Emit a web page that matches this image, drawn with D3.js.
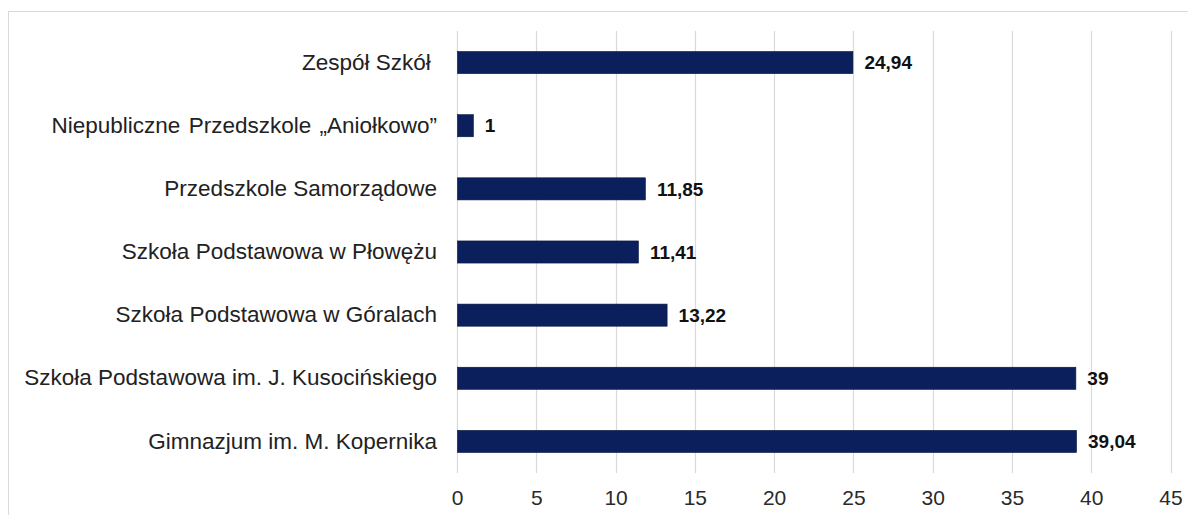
<!DOCTYPE html>
<html>
<head>
<meta charset="utf-8">
<script src="https://cdn.jsdelivr.net/npm/d3@7"></script>
<style>
  body { margin: 0; background: #fff; }
  svg { display: block; font-family: "Liberation Sans", Arial, sans-serif; }
</style>
</head>
<body>
<div id="chart"></div>
<script>
var categories = [
  "Zespół Szkół ",
  "Niepubliczne Przedszkole „Aniołkowo”",
  "Przedszkole Samorządowe",
  "Szkoła Podstawowa w Płowężu",
  "Szkoła Podstawowa w Góralach",
  "Szkoła Podstawowa im. J. Kusocińskiego",
  "Gimnazjum im. M. Kopernika"
];
var values = [24.94, 1, 11.85, 11.41, 13.22, 39, 39.04];
var valueLabels = ["24,94", "1", "11,85", "11,41", "13,22", "39", "39,04"];
var xTicks = [0, 5, 10, 15, 20, 25, 30, 35, 40, 45];

var W = 1188, H = 515;
var margin = {top: 31, right: 17, bottom: 42, left: 457},
    width = W - margin.left - margin.right,
    height = H - margin.top - margin.bottom;

var svg = d3.select("#chart").append("svg")
    .attr("width", W)
    .attr("height", H);

// outer frame (runs off the right and bottom edge)
svg.append("rect")
    .attr("x", 8.5).attr("y", 11.5)
    .attr("width", W + 10).attr("height", H + 10)
    .attr("fill", "none")
    .attr("stroke", "#d9d9d9");

var g = svg.append("g")
    .attr("transform", "translate(" + margin.left + "," + margin.top + ")");

var x = d3.scaleLinear().domain([0, 45]).range([0, width - 0.5]);
var y = d3.scaleBand().domain(categories).range([0, height]).paddingInner(0.65).paddingOuter(0.325);

// gridlines
g.selectAll(".grid")
  .data(xTicks)
  .enter().append("line")
    .attr("x1", function(d) { return Math.round(x(d)) + 0.5; })
    .attr("x2", function(d) { return Math.round(x(d)) + 0.5; })
    .attr("y1", 0)
    .attr("y2", height)
    .attr("stroke", "#d9d9d9")
    .attr("stroke-width", 1.2);

// x axis labels
var xAxis = g.append("g")
    .attr("transform", "translate(0," + height + ")")
    .call(d3.axisBottom(x).tickValues(xTicks).tickSize(0).tickPadding(17).tickFormat(d3.format("d")));
xAxis.select(".domain").remove();
xAxis.selectAll("text")
    .style("font-size", "21px")
    .style("font-family", "Liberation Sans, Arial, sans-serif")
    .attr("fill", "#2a2a2a");

// y axis labels
var yAxis = g.append("g")
    .call(d3.axisLeft(y).tickSize(0).tickPadding(20));
yAxis.select(".domain").remove();
yAxis.selectAll("text")
    .style("font-size", "22.5px")
    .style("font-family", "Liberation Sans, Arial, sans-serif")
    .style("white-space", "pre")
    .style("word-spacing", function(d, i) { return i === 1 ? "2px" : null; })
    .attr("fill", "#222");

// bars
g.selectAll(".bar")
  .data(values)
  .enter().append("rect")
    .attr("class", "bar")
    .attr("x", x(0) + 0.5)
    .attr("y", function(d, i) { return y(categories[i]); })
    .attr("width", function(d) { return x(d) - x(0); })
    .attr("height", y.bandwidth())
    .attr("fill", "#0b1f5c")
    .attr("stroke", "#061440")
    .attr("stroke-width", 0.6);

// value labels
g.selectAll(".val")
  .data(values)
  .enter().append("text")
    .attr("x", function(d) { return x(d) + 12; })
    .attr("y", function(d, i) { return y(categories[i]) + y.bandwidth() / 2; })
    .attr("dy", "0.35em")
    .style("font-size", "19px")
    .style("font-weight", "bold")
    .attr("fill", "#111")
    .text(function(d, i) { return valueLabels[i]; });
</script>
</body>
</html>
